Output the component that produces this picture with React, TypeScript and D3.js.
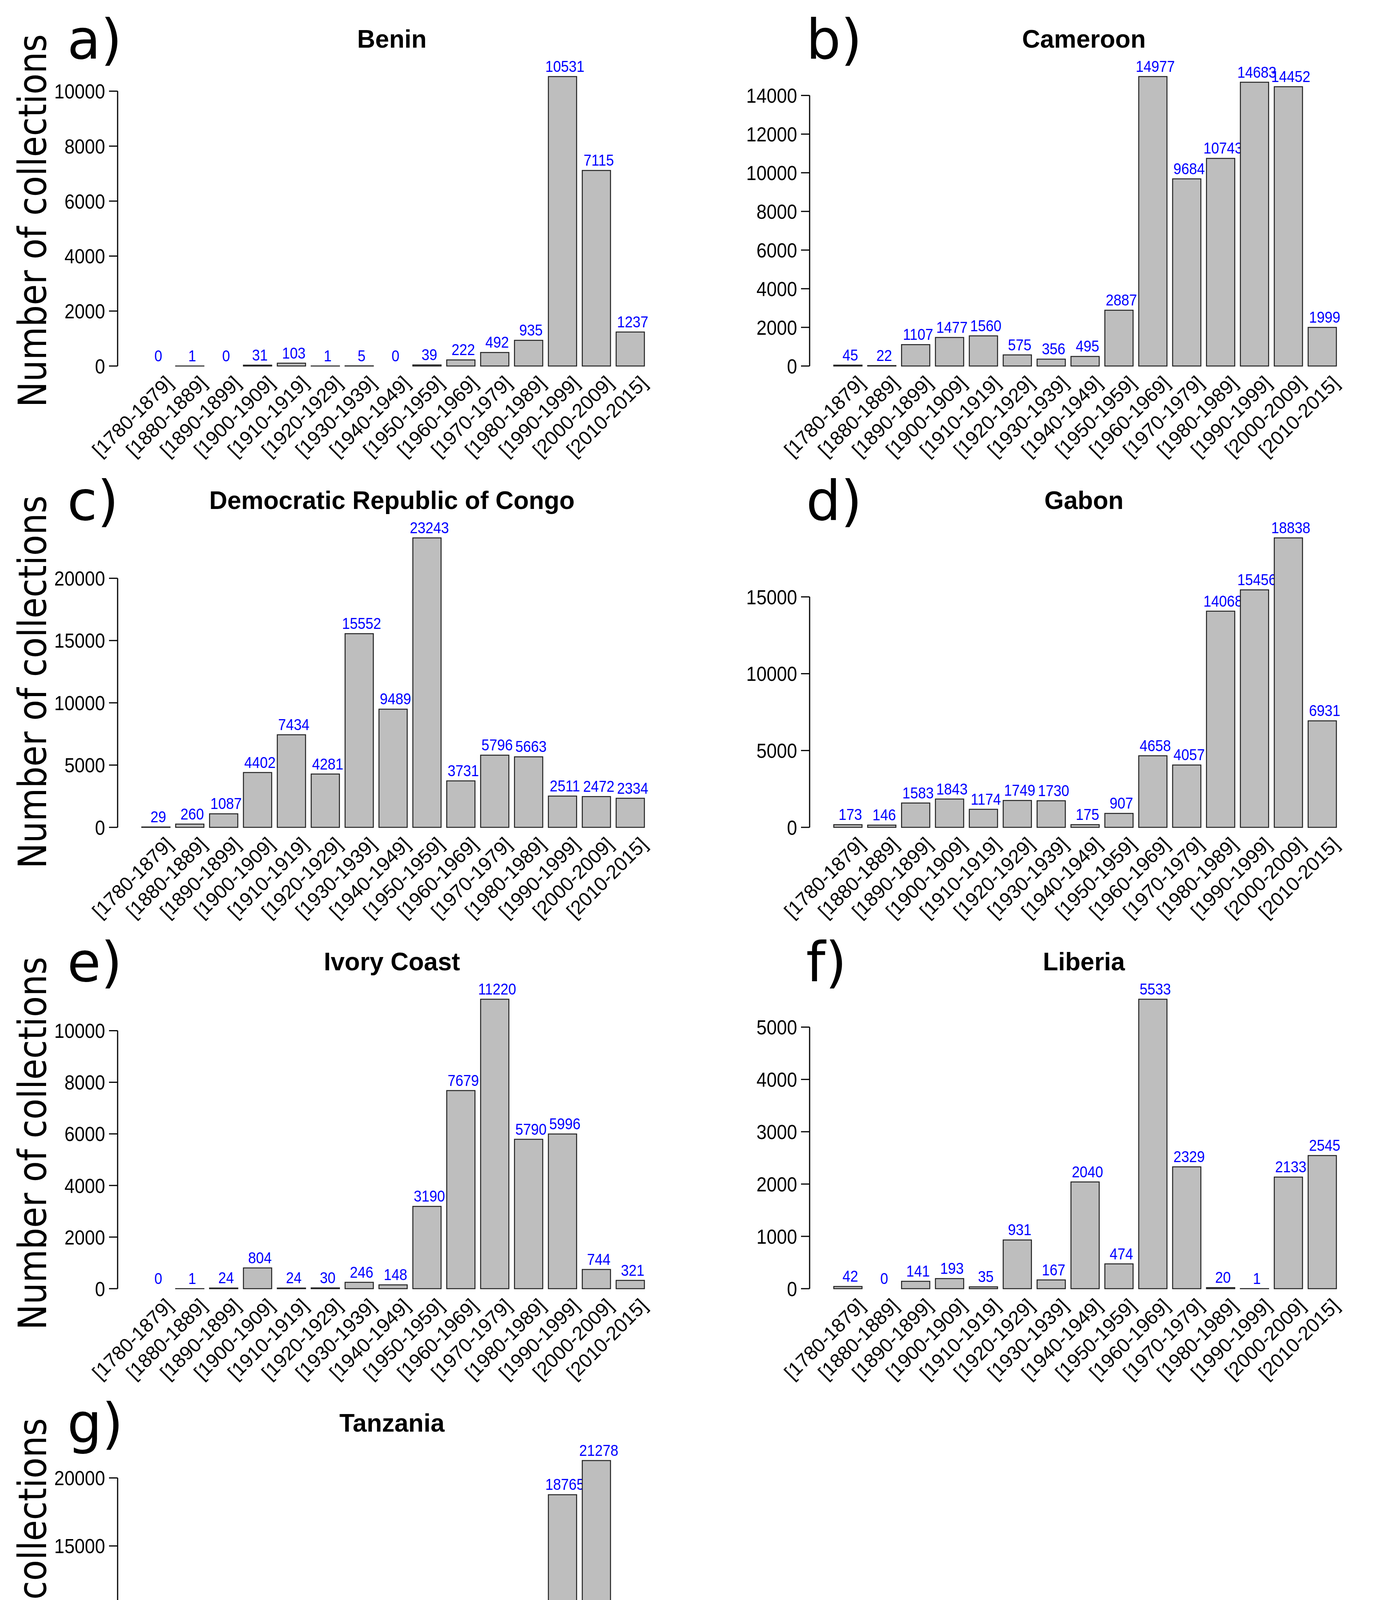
import React from "react";
import * as d3 from "d3";

const categories = ["[1780-1879]","[1880-1889]","[1890-1899]","[1900-1909]","[1910-1919]","[1920-1929]","[1930-1939]","[1940-1949]","[1950-1959]","[1960-1969]","[1970-1979]","[1980-1989]","[1990-1999]","[2000-2009]","[2010-2015]"];
const benin = [0,1,0,31,103,1,5,0,39,222,492,935,10531,7115,1237];
const cameroon = [45,22,1107,1477,1560,575,356,495,2887,14977,9684,10743,14683,14452,1999];
const drc = [29,260,1087,4402,7434,4281,15552,9489,23243,3731,5796,5663,2511,2472,2334];
const gabon = [173,146,1583,1843,1174,1749,1730,175,907,4658,4057,14068,15456,18838,6931];
const ivory = [0,1,24,804,24,30,246,148,3190,7679,11220,5790,5996,744,321];
const liberia = [42,0,141,193,35,931,167,2040,474,5533,2329,20,1,2133,2545];
const tanzania = [78,19,342,658,2412,602,1950,565,2903,3918,6315,9437,18765,21278,1851];
const titles = ["Benin","Cameroon","Democratic Republic of Congo","Gabon","Ivory Coast","Liberia","Tanzania"];
const letters = ["a)","b)","c)","d)","e)","f)","g)"];
const tickSteps = [2000,2000,5000,5000,2000,1000,5000];
const series = [benin,cameroon,drc,gabon,ivory,liberia,tanzania];

const PW = 1771, PH = 1181;
const AX = 301, Y0 = 937, YTOP = 196, XL = 370, XR = 1642;
const F = "Liberation Sans, Arial, sans-serif";

function Panel({ i }: { i: number }) {
  const data = series[i];
  const col = i % 2, row = Math.floor(i / 2);
  const max = d3.max(data) as number;
  const y = d3.scaleLinear().domain([0, max]).range([Y0, YTOP]);
  const x = d3.scaleBand<string>().domain(categories).range([XL - 0.1 * 71.5, XR + 0.1 * 71.5]).paddingInner(0.2 / 1.2).paddingOuter(0);
  const step = tickSteps[i];
  const ticks = d3.range(0, max + 1, step);
  const last = ticks[ticks.length - 1];
  return (
    <g transform={`translate(${col * PW},${row * PH})`}>
      {col === 0 && (
        <text transform="translate(118,565) rotate(-90)" textAnchor="middle" fontFamily="DejaVu Sans" fontSize={100} textLength={955} lengthAdjust="spacingAndGlyphs">Number of collections</text>
      )}
      <text x={col === 0 ? 172 : 292} y={150} fontFamily="DejaVu Sans" fontSize={140}>{letters[i]}</text>
      <text x={1003} y={122} textAnchor="middle" fontFamily={F} fontWeight="bold" fontSize={64}>{titles[i]}</text>
      <line x1={AX} x2={AX} y1={y(0)} y2={y(last)} stroke="#000" strokeWidth={3} />
      {ticks.map(t => (
        <g key={t}>
          <line x1={AX - 22} x2={AX} y1={y(t)} y2={y(t)} stroke="#000" strokeWidth={3} />
          <text x={AX - 32} y={y(t)} dy="0.36em" textAnchor="end" fontFamily={F} fontSize={52} transform={`translate(${AX - 32},0) scale(0.9,1) translate(${-(AX - 32)},0)`}>{t}</text>
        </g>
      ))}
      {data.map((v, j) => {
        const bx = x(categories[j]) as number;
        const bw = x.bandwidth();
        const cx = bx + bw / 2;
        return (
          <g key={j}>
            <rect x={bx} y={y(v)} width={bw} height={y(0) - y(v)} fill="#bebebe" stroke="#222" strokeWidth={2.5} />
            <text x={cx + 6} y={y(v) - 12} textAnchor="middle" fill="#0000ff" fontFamily={F} fontSize={40} transform={`translate(${cx + 6},0) scale(0.9,1) translate(${-(cx + 6)},0)`}>{v}</text>
            <text transform={`translate(${cx + 22},${Y0 + 22}) rotate(-45)`} textAnchor="end" dy="0.7em" fontFamily={F} fontSize={50}>{categories[j]}</text>
          </g>
        );
      })}
    </g>
  );
}

export default function App() {
  return (
    <svg width={3542} height={4723} style={{ position: "absolute", left: 0, top: 0, background: "#fff" }}>
      <rect width={3542} height={4723} fill="#fff" />
      {series.map((_, i) => <Panel key={i} i={i} />)}
    </svg>
  );
}
